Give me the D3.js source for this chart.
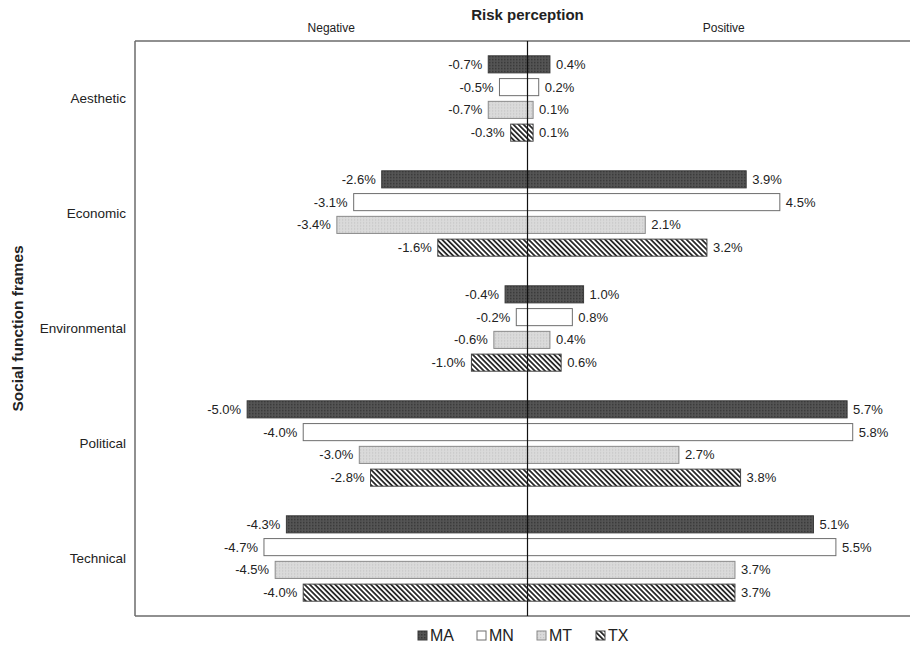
<!DOCTYPE html>
<html lang="en">
  <head>
    <meta charset="UTF-8" />
    <title>Risk perception</title>
    <style>
      body { margin: 0; background: #fff; }
      #chart { width: 910px; height: 650px; }
      text { font-family: "Liberation Sans", Arial, sans-serif; fill: #222; }
    </style>
  </head>
  <body>
    <div id="chart"></div>
    <script src="https://cdn.jsdelivr.net/npm/d3@7"></script>
    <script>
      // data (percent)
      var categories = ["Aesthetic", "Economic", "Environmental", "Political", "Technical"];
      var states = ["MA", "MN", "MT", "TX"];
      var negMA = [-0.7, -2.6, -0.4, -5.0, -4.3];
      var posMA = [0.4, 3.9, 1.0, 5.7, 5.1];
      var negMN = [-0.5, -3.1, -0.2, -4.0, -4.7];
      var posMN = [0.2, 4.5, 0.8, 5.8, 5.5];
      var negMT = [-0.7, -3.4, -0.6, -3.0, -4.5];
      var posMT = [0.1, 2.1, 0.4, 2.7, 3.7];
      var negTX = [-0.3, -1.6, -1.0, -2.8, -4.0];
      var posTX = [0.1, 3.2, 0.6, 3.8, 3.7];
      var xDomain = [-7, 7];

      var neg = { MA: negMA, MN: negMN, MT: negMT, TX: negTX };
      var pos = { MA: posMA, MN: posMN, MT: posMT, TX: posTX };

      var rows = [];
      categories.forEach(function (c, i) {
        states.forEach(function (s) {
          rows.push({ cat: c, state: s, neg: neg[s][i], pos: pos[s][i] });
        });
      });

      var width = 910, height = 650;
      // plot area (right edge runs off the picture, as in the figure)
      var plotL = 135, plotR = 920, plotT = 41, plotB = 616;

      var svg = d3.select("#chart").append("svg")
        .attr("width", width)
        .attr("height", height);

      var defs = svg.append("defs");

      // fine dotted dark fill for MA
      var pMA = defs.append("pattern").attr("id", "pMA")
        .attr("patternUnits", "userSpaceOnUse").attr("width", 3).attr("height", 3);
      pMA.append("rect").attr("width", 3).attr("height", 3).attr("fill", "#555");
      pMA.append("rect").attr("width", 1.5).attr("height", 1.5).attr("fill", "#383838");

      // light dotted fill for MT
      var pMT = defs.append("pattern").attr("id", "pMT")
        .attr("patternUnits", "userSpaceOnUse").attr("width", 3).attr("height", 3);
      pMT.append("rect").attr("width", 3).attr("height", 3).attr("fill", "#dadada");
      pMT.append("rect").attr("width", 1.2).attr("height", 1.2).attr("fill", "#c4c4c4");

      // diagonal hatch for TX, running top-left to bottom-right
      var pTX = defs.append("pattern").attr("id", "pTX")
        .attr("patternUnits", "userSpaceOnUse").attr("width", 3.6).attr("height", 3.6)
        .attr("patternTransform", "rotate(45)");
      pTX.append("rect").attr("width", 3.6).attr("height", 3.6).attr("fill", "#fff");
      pTX.append("rect").attr("width", 3.6).attr("height", 1.8).attr("fill", "#2a2a2a");

      var fills = { MA: "url(#pMA)", MN: "#fff", MT: "url(#pMT)", TX: "url(#pTX)" };
      var strokes = { MA: "#3a3a3a", MN: "#6e6e6e", MT: "#8a8a8a", TX: "#444" };

      var x = d3.scaleLinear().domain(xDomain).range([plotL, plotR]);
      var y0 = d3.scaleBand().domain(categories).range([plotT, plotB]);
      var y1 = d3.scaleBand().domain(states).range([0, y0.bandwidth()])
        .paddingInner(0.25).paddingOuter(0.65);

      // frame: top, bottom, left
      var frame = svg.append("g").attr("stroke", "#6b6b6b").attr("stroke-width", 1.5);
      frame.append("line").attr("x1", plotL).attr("x2", width).attr("y1", plotT).attr("y2", plotT);
      frame.append("line").attr("x1", plotL).attr("x2", width).attr("y1", plotB).attr("y2", plotB);
      frame.append("line").attr("x1", plotL).attr("x2", plotL).attr("y1", plotT).attr("y2", plotB);

      var g = svg.append("g");

      var bar = g.selectAll("g.row").data(rows).enter().append("g")
        .attr("class", "row")
        .attr("transform", function (d) { return "translate(0," + (y0(d.cat) + y1(d.state)) + ")"; });

      bar.append("rect")
        .attr("x", function (d) { return x(d.neg); })
        .attr("width", function (d) { return x(0) - x(d.neg); })
        .attr("height", y1.bandwidth())
        .attr("fill", function (d) { return fills[d.state]; })
        .attr("stroke", function (d) { return strokes[d.state]; })
        .attr("stroke-width", 1);

      bar.append("rect")
        .attr("x", x(0))
        .attr("width", function (d) { return x(d.pos) - x(0); })
        .attr("height", y1.bandwidth())
        .attr("fill", function (d) { return fills[d.state]; })
        .attr("stroke", function (d) { return strokes[d.state]; })
        .attr("stroke-width", 1);

      // plain hyphen as minus sign, like the figure
      var fmt = function (v) { return v.toFixed(1) + "%"; };
      bar.append("text")
        .attr("x", function (d) { return x(d.neg) - 6; })
        .attr("y", y1.bandwidth() / 2)
        .attr("dy", "0.35em")
        .attr("text-anchor", "end")
        .attr("font-size", 13)
        .text(function (d) { return fmt(d.neg); });

      bar.append("text")
        .attr("x", function (d) { return x(d.pos) + 6; })
        .attr("y", y1.bandwidth() / 2)
        .attr("dy", "0.35em")
        .attr("font-size", 13)
        .text(function (d) { return fmt(d.pos); });

      // zero line
      svg.append("line")
        .attr("x1", x(0)).attr("x2", x(0))
        .attr("y1", plotT).attr("y2", plotB)
        .attr("stroke", "#111").attr("stroke-width", 1.2);

      // category labels
      svg.append("g").selectAll("text").data(categories).enter().append("text")
        .attr("x", 126)
        .attr("y", function (d) { return y0(d) + y0.bandwidth() / 2; })
        .attr("dy", "0.35em")
        .attr("text-anchor", "end")
        .attr("font-size", 13.5)
        .text(function (d) { return d; });

      // titles
      svg.append("text")
        .attr("x", x(0)).attr("y", 20)
        .attr("text-anchor", "middle")
        .attr("font-size", 15).attr("font-weight", "bold")
        .text("Risk perception");
      svg.append("text")
        .attr("x", (x(xDomain[0]) + x(0)) / 2).attr("y", 32)
        .attr("text-anchor", "middle")
        .attr("font-family", "Open Sans").attr("font-size", 12)
        .text("Negative");
      svg.append("text")
        .attr("x", (x(xDomain[1]) + x(0)) / 2).attr("y", 32)
        .attr("text-anchor", "middle")
        .attr("font-family", "Open Sans").attr("font-size", 12)
        .text("Positive");
      svg.append("text")
        .attr("transform", "translate(23," + (plotT + plotB) / 2 + ") rotate(-90)")
        .attr("text-anchor", "middle")
        .attr("font-size", 15.5).attr("font-weight", "bold")
        .text("Social function frames");

      // legend
      var legX = d3.scaleOrdinal().domain(states).range([418, 477, 537, 596]);
      var leg = svg.append("g").selectAll("g").data(states).enter().append("g")
        .attr("transform", function (d) { return "translate(" + legX(d) + ",631)"; });
      leg.append("rect")
        .attr("width", 9).attr("height", 9)
        .attr("fill", function (d) { return fills[d]; })
        .attr("stroke", function (d) { return strokes[d]; });
      leg.append("text")
        .attr("x", 12).attr("y", 4.5).attr("dy", "0.37em")
        .attr("font-size", 16)
        .text(function (d) { return d; });
    </script>
  </body>
</html>
